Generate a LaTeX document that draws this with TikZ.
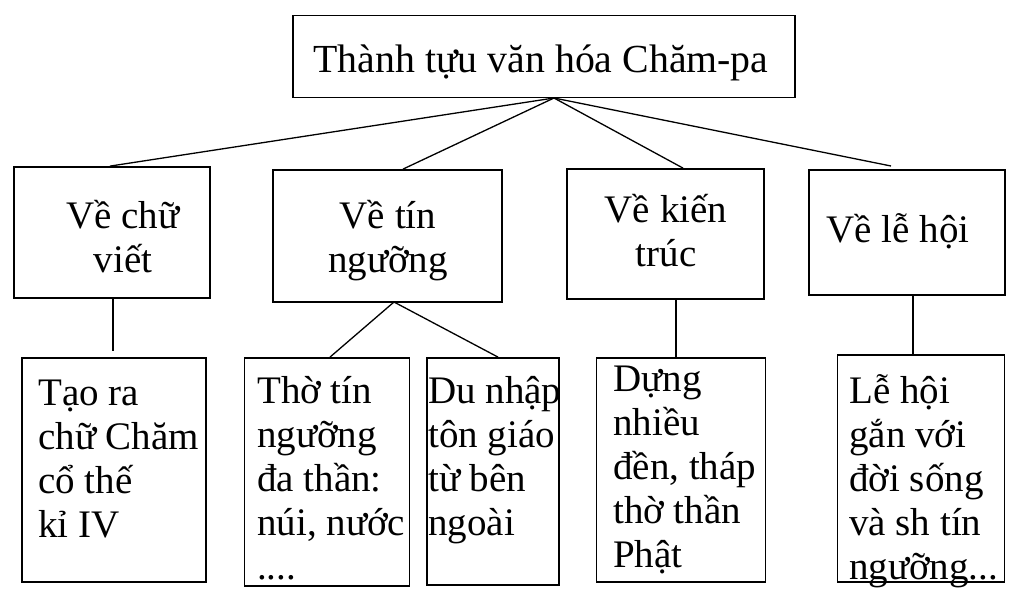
\documentclass[tikz,border=0pt]{standalone}
\usepackage{fontspec}
\setmainfont{Liberation Serif}
\usetikzlibrary{calc}
\newcommand{\firstline}{\rule{0pt}{40pt}}
\tikzset{
  box/.style={draw=black, line width=1.8pt, fill=white, inner sep=0pt},
  conn/.style={draw=black, line width=1.3pt},
  headtxt/.style={font=\fontsize{39}{44}\selectfont, align=center, inner sep=0pt, anchor=north},
  bodytxt/.style={font=\fontsize{39}{44}\selectfont, align=left, inner sep=0pt, anchor=north west},
}
\begin{document}
\begin{tikzpicture}[x=1pt,y=-1pt]
\useasboundingbox (0,0) rectangle (1024,610);
\fill[white] (0,0) rectangle (1024,610);
% top (baseline y - 40 for north anchor)
\node[box, minimum width=502pt, minimum height=82pt] (top) at (544,56.5) {};
\node[headtxt, font=\fontsize{39.8}{44}\selectfont] (toptxt) at (541,32) {\firstline Thành tựu văn hóa Chăm-pa};
\coordinate (apex) at (554,98);
% level 2
\node[box, minimum width=196pt, minimum height=131pt] (b1) at (112,232.5) {};
\node[box, minimum width=229pt, minimum height=132pt] (b2) at (387.5,236) {};
\node[box, minimum width=197pt, minimum height=130pt] (b3) at (665.5,234) {};
\node[box, minimum width=196pt, minimum height=125pt] (b4) at (907,232.5) {};
\node[headtxt] (t1) at (123,188) {\firstline Về chữ\\viết};
\node[headtxt] (t2) at (388,188) {\firstline Về tín\\ngưỡng};
\node[headtxt] (t3) at (666,182) {\firstline Về kiến\\trúc};
\node[headtxt] (t4) at (898,202) {\firstline Về lễ hội};
% level 3
\node[box, minimum width=184pt, minimum height=224pt] (b5) at (114,470) {};
\node[box, minimum width=165pt, minimum height=228pt] (b6) at (327,472) {};
\node[box, minimum width=132pt, minimum height=227pt] (b7) at (493,471.5) {};
\node[box, minimum width=169pt, minimum height=224pt] (b8) at (681,470) {};
\node[box, minimum width=167pt, minimum height=227pt] (b9) at (921,468.5) {};
\node[bodytxt] (t5) at (38,365) {\firstline Tạo ra\\chữ Chăm\\cổ thế\\kỉ IV};
\node[bodytxt] (t6) at (257,363) {\firstline Thờ tín\\ngưỡng\\đa thần:\\núi, nước\\....};
\node[bodytxt] (t7) at (428,363) {\firstline Du nhập\\tôn giáo\\từ bên\\ngoài};
\node[bodytxt] (t8) at (613,351) {\firstline Dựng\\nhiều\\đền, tháp\\thờ thần\\Phật};
\node[bodytxt] (t9) at (849,363) {\firstline Lễ hội\\gắn với\\đời sống\\và sh tín\\ngưỡng...};
% connectors
\draw[conn] (apex) -- (b1.north -| 110,0);
\draw[conn] (apex) -- (b2.north -| 403,0);
\draw[conn] (apex) -- (b3.north -| 683,0);
\coordinate (e4) at (891,166);
\draw[conn] (apex) -- (e4);
\coordinate (e1) at (113,351);
\draw[conn] (b1.south -| e1) -- (e1);
\coordinate (a2) at (394,302);
\draw[conn] (a2) -- (b6.north -| 330,0);
\draw[conn] (a2) -- (b7.north -| 498,0);
\draw[conn] (b3.south -| 676,0) -- (b8.north -| 676,0);
\draw[conn] (b4.south -| 913,0) -- (b9.north -| 913,0);
\end{tikzpicture}
\end{document}
